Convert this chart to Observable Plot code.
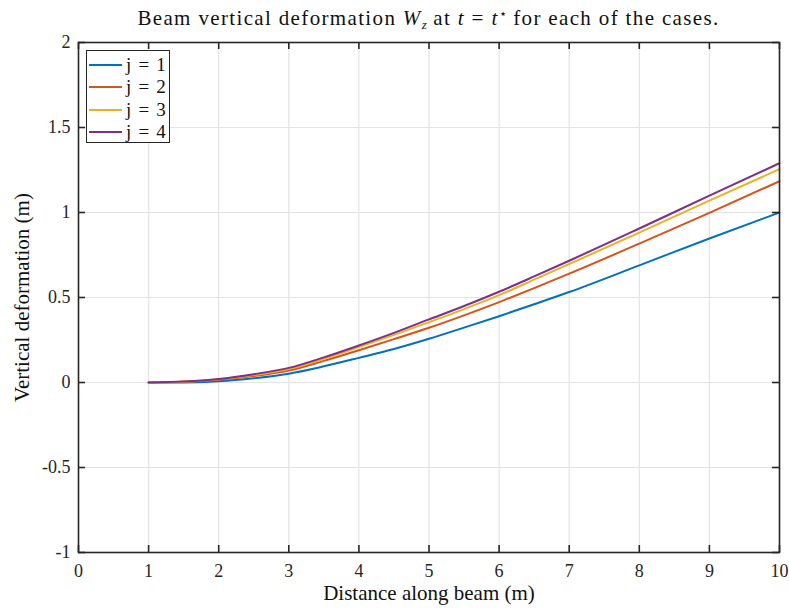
<!DOCTYPE html>
<html>
<head>
<meta charset="utf-8">
<script src="https://cdn.jsdelivr.net/npm/d3@7"></script>
<script src="https://cdn.jsdelivr.net/npm/@observablehq/plot@0.6"></script>
<style>
  html, body { margin: 0; padding: 0; background: white; }
  #wrap { position: relative; width: 789px; height: 610px; font-family: "Liberation Serif", serif; color: #262626; }
  #title { position: absolute; left: 0px; width: 857px; top: 6px; text-align: center; font-family: "Liberation Serif", serif; font-size: 21px; letter-spacing: 1.35px; color: #111; white-space: nowrap; }
  #title sub { font-size: 13px; vertical-align: -4px; letter-spacing: 0; }
  #title sup { font-size: 13px; vertical-align: 7px; letter-spacing: 0; }
  #legend { position: absolute; left: 86px; top: 50px; width: 82px; height: 91px; border: 1.5px solid #262626; background: white; }
  .entry { position: absolute; left: 0; height: 22px; display: flex; align-items: center; font-family: "Liberation Serif", serif; font-size: 19px; letter-spacing: 1.2px; color: #111; white-space: nowrap; }
  .entry svg { margin-left: 2px; margin-right: 3px; }
</style>
</head>
<body>
<div id="wrap">
  <div id="chart"></div>
  <div id="title">Beam vertical deformation <i>W</i><sub><i>z</i></sub> at <i>t</i> = <i>t</i><sup>⋆</sup> for each of the cases.</div>
  <div id="legend"></div>
</div>
<script>
const xTicks = [0, 1, 2, 3, 4, 5, 6, 7, 8, 9, 10];
const yTicks = [-1, -0.5, 0, 0.5, 1, 1.5, 2];
const yTickLabels = ["-1", "-0.5", "0", "0.5", "1", "1.5", "2"];

const distance = [1, 1.5, 2, 2.5, 3, 3.5, 4, 4.5, 5, 5.5, 6, 6.5, 7, 8, 9, 10];
const wJ1 = [0, 0.0, 0.007, 0.025, 0.052, 0.095, 0.145, 0.197, 0.257, 0.323, 0.39, 0.46, 0.532, 0.689, 0.847, 1.0];
const wJ2 = [0, 0.004, 0.016, 0.038, 0.07, 0.127, 0.19, 0.255, 0.322, 0.395, 0.473, 0.555, 0.64, 0.817, 0.998, 1.184];
const wJ3 = [0, 0.005, 0.019, 0.044, 0.079, 0.139, 0.208, 0.28, 0.355, 0.432, 0.514, 0.605, 0.697, 0.882, 1.07, 1.255];
const wJ4 = [0, 0.006, 0.021, 0.049, 0.086, 0.148, 0.218, 0.292, 0.371, 0.45, 0.534, 0.624, 0.716, 0.906, 1.099, 1.29];

const seriesNames = ["j = 1", "j = 2", "j = 3", "j = 4"];
const seriesColors = ["#0072BD", "#D95319", "#EDB120", "#7E2F8E"];
const seriesValues = [wJ1, wJ2, wJ3, wJ4];

const rows = [];
seriesValues.forEach((vals, s) => {
  vals.forEach((v, i) => rows.push({x: distance[i], y: v, series: seriesNames[s]}));
});

const W = 789, H = 610, mL = 78, mR = 10, mT = 42, mB = 58;
const innerH = H - mT - mB, innerW = W - mL - mR;
const tickLen = 7;
const axisColor = "#262626";
const gridColor = "#e3e3e3";
const serif = "Liberation Serif";

const chart = Plot.plot({
  width: W,
  height: H,
  marginLeft: mL,
  marginRight: mR,
  marginTop: mT,
  marginBottom: mB,
  style: {fontFamily: serif, fontSize: "18px", color: axisColor, background: "white", overflow: "visible"},
  x: {domain: [0, 10]},
  y: {domain: [-1, 2]},
  color: {domain: seriesNames, range: seriesColors},
  marks: [
    Plot.gridX({ticks: xTicks, stroke: gridColor, strokeOpacity: 1, strokeWidth: 1.2}),
    Plot.gridY({ticks: yTicks, stroke: gridColor, strokeOpacity: 1, strokeWidth: 1.2}),
    Plot.line(rows, {x: "x", y: "y", z: "series", stroke: "series", strokeWidth: 2, curve: "monotone-x"}),
    Plot.frame({stroke: axisColor, strokeWidth: 1.6}),
    Plot.ruleX(xTicks, {x: d => d, insetTop: innerH - tickLen, stroke: axisColor, strokeWidth: 1.6}),
    Plot.ruleX(xTicks, {x: d => d, insetBottom: innerH - tickLen, stroke: axisColor, strokeWidth: 1.6}),
    Plot.ruleY(yTicks, {y: d => d, insetRight: innerW - tickLen, stroke: axisColor, strokeWidth: 1.6}),
    Plot.ruleY(yTicks, {y: d => d, insetLeft: innerW - tickLen, stroke: axisColor, strokeWidth: 1.6}),
    Plot.axisX({ticks: xTicks, tickSize: 0, tickPadding: 12, label: null, fontSize: 18, fontFamily: serif, fill: axisColor}),
    Plot.axisY({ticks: yTicks, tickSize: 0, tickPadding: 8, label: null, fontSize: 18, fontFamily: serif, fill: axisColor, tickFormat: d => yTickLabels[yTicks.indexOf(d)]}),
    Plot.text(["Distance along beam (m)"], {frameAnchor: "bottom", textAnchor: "middle", dy: 47, fontSize: 21, fontFamily: serif, fill: "#111"}),
    Plot.text(["Vertical deformation (m)"], {frameAnchor: "left", textAnchor: "middle", rotate: -90, dx: -56, fontSize: 21, fontFamily: serif, fill: "#111"})
  ]
});
document.getElementById("chart").appendChild(chart);

const legend = document.getElementById("legend");
seriesNames.forEach((name, i) => {
  const e = document.createElement("div");
  e.className = "entry";
  e.style.top = (3 + i * 22.3) + "px";
  e.innerHTML = `<svg width="34" height="6"><line x1="0" y1="3" x2="33" y2="3" stroke="${seriesColors[i]}" stroke-width="2"/></svg><span>${name}</span>`;
  legend.appendChild(e);
});
</script>
</body>
</html>
